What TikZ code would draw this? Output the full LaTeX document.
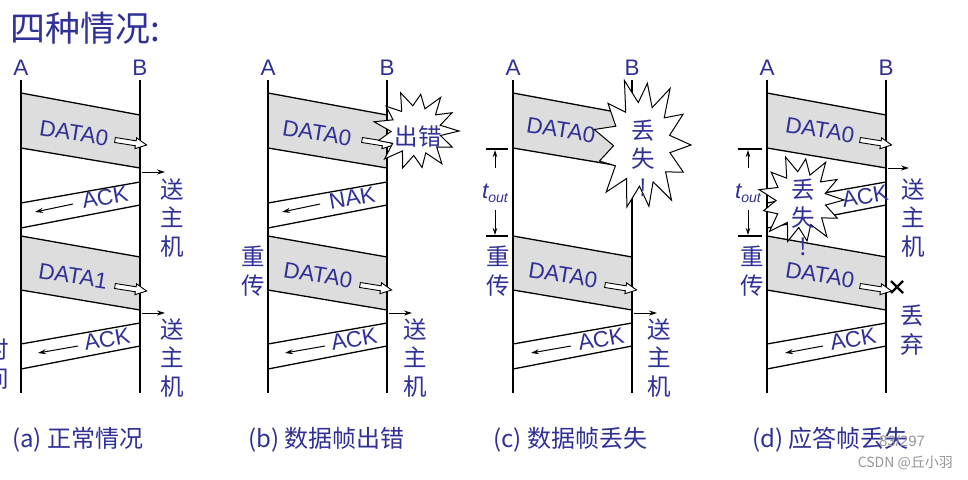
\documentclass[tikz,border=0pt]{standalone}
\usepackage{fontspec}
\setmainfont{Liberation Sans}
\newfontfamily\cjk{Noto Sans CJK SC}
\usetikzlibrary{arrows.meta}
\definecolor{txtblue}{RGB}{48,48,150}
\definecolor{framegray}{RGB}{221,221,221}
\definecolor{wmgray}{RGB}{150,150,150}
\tikzset{
  frameline/.style={line width=1.3pt,black},
  timeline/.style={line width=2.2pt,black},
  lat/.style={text=txtblue,font=\fontsize{22.5}{22.5}\selectfont,inner sep=0pt},
  han/.style={text=txtblue,font=\cjk\fontsize{23.5}{28.5}\selectfont,inner sep=0pt,align=center},
  captxt/.style={text=txtblue,font=\cjk\fontsize{24}{24}\selectfont,inner sep=0pt,anchor=west},
  smallarrow/.style={line width=1pt,-{Stealth[length=8pt,width=5pt]}},
  toutarrow/.style={line width=1pt,-{Stealth[length=7pt,width=4.5pt]}},
  tickline/.style={line width=1.5pt},
  burstbox/.style={fill=white,draw=black,line width=1pt,line join=miter},
  hollowbox/.style={fill=white,draw=black,line width=0.9pt}
}
% frames, relative to line A at x=0, line B at x=119
\newcommand\dataone{%
  \fill[framegray] (0,93) -- (119,115) -- (119,168) -- (0,148) -- cycle;
  \draw[frameline] (0,93) -- (119,115) (0,148) -- (119,168);}
\newcommand\ackone{%
  \draw[frameline] (119,182) -- (0,203) (119,205) -- (0,228);}
\newcommand\datatwo{%
  \fill[framegray] (0,236) -- (119,257) -- (119,310) -- (0,290) -- cycle;
  \draw[frameline] (0,236) -- (119,257) (0,290) -- (119,310);}
\newcommand\acktwo{%
  \draw[frameline] (119,323) -- (0,344) (119,346) -- (0,369);}
\newcommand\timelines[1]{%
  \draw[timeline] (0,80) coordinate (#1top) -- (0,393) coordinate (#1bot);
  \draw[timeline] (119,80) coordinate (#1Btop) -- (119,393) coordinate (#1Bbot);
  \node[lat] (#1A) at (0,68) {A};
  \node[lat] (#1B) at (119,68) {B};}
\newcommand\hollow[2]{%
  \begin{scope}[shift={(#1,#2)},rotate=-9]
    \filldraw[hollowbox] (0,-2.5) -- (21,-2.5) -- (21,-5.5) -- (32,0) -- (21,5.5) -- (21,2.5) -- (0,2.5) -- cycle;
  \end{scope}}
\newcommand\burst[4]{%
  \filldraw[burstbox,shift={(#1,#2)},x=#3pt,y=#4pt] (0:1)
    \foreach \a/\r in {14/0.58,28/0.95,41/0.6,55/1.0,69/0.58,83/0.9,97/0.62,111/1.0,125/0.58,139/0.92,153/0.6,167/1.0,181/0.58,195/0.9,209/0.62,223/1.0,237/0.58,251/0.95,265/0.6,279/0.9,293/0.58,307/1.0,321/0.62,335/0.93,349/0.58} {-- (\a:\r)} -- cycle;}
\begin{document}
\begin{tikzpicture}[x=1pt,y=-1pt]
\fill[white] (0,0) rectangle (968,479);
\useasboundingbox (0,0) rectangle (968,479);

\node[text=txtblue,font=\cjk\fontsize{35}{35}\selectfont,inner sep=0pt,anchor=west] (title) at (10,28) {四种情况:};

% ---------- (a) ----------
\begin{scope}[shift={(21,0)}]
  \dataone \ackone \datatwo \acktwo
  \timelines{a}
  \node[lat,rotate=-9] (aD0) at (53,133) {DATA0};
  \hollow{94}{140}
  \coordinate (aS1) at (121,172); \coordinate (aE1) at (144,172);
  \draw[smallarrow] (aS1) -- (aE1);
  \node[han] (ah1) at (151,218) {送\\主\\机};
  \node[lat,rotate=10] (aK1) at (84,197) {ACK};
  \coordinate (aS2) at (52,204); \coordinate (aE2) at (14,212);
  \draw[smallarrow] (aS2) -- (aE2);
  \node[lat,rotate=-9] (aD1) at (52,276) {DATA1};
  \hollow{94}{286}
  \coordinate (aS3) at (121,313); \coordinate (aE3) at (144,313);
  \draw[smallarrow] (aS3) -- (aE3);
  \node[han] (ah2) at (151,358) {送\\主\\机};
  \node[lat,rotate=10] (aK2) at (86,339) {ACK};
  \coordinate (aS4) at (57,346); \coordinate (aE4) at (17,353);
  \draw[smallarrow] (aS4) -- (aE4);
  \node[han] (atime) at (-24,364) {时\\间};
\end{scope}

% ---------- (b) ----------
\begin{scope}[shift={(268,0)}]
  \dataone \ackone \datatwo \acktwo
  \timelines{b}
  \node[lat,rotate=-9] (bD0) at (49,133) {DATA0};
  \hollow{94}{140}
  \burst{148}{131}{43}{41}
  \node[han] (berr) at (150,137) {出错};
  \node[lat,rotate=10] (bN) at (84,198) {NAK};
  \coordinate (bS2) at (52,204); \coordinate (bE2) at (14,212);
  \draw[smallarrow] (bS2) -- (bE2);
  \node[han] (bre) at (-15,271) {重\\传};
  \node[lat,rotate=-9] (bD1) at (50,275) {DATA0};
  \hollow{92}{285}
  \coordinate (bS3) at (121,313); \coordinate (bE3) at (144,313);
  \draw[smallarrow] (bS3) -- (bE3);
  \node[han] (bh2) at (147,358) {送\\主\\机};
  \node[lat,rotate=10] (bK2) at (86,339) {ACK};
  \coordinate (bS4) at (57,346); \coordinate (bE4) at (17,353);
  \draw[smallarrow] (bS4) -- (bE4);
\end{scope}

% ---------- (c) ----------
\begin{scope}[shift={(513,0)}]
  \dataone \datatwo \acktwo
  \timelines{c}
  \node[lat,rotate=-9] (cD0) at (48,130) {DATA0};
  \burst{129}{145}{49}{69}
  \node[han] (clost) at (130,158) {丢\\失\\!};
  \draw[tickline] (-27,149) coordinate (ct1l) -- (-5,149) coordinate (ct1r);
  \draw[tickline] (-27,236) coordinate (ct2l) -- (-5,236) coordinate (ct2r);
  \coordinate (cu1) at (-18,168); \coordinate (cu2) at (-18,150);
  \coordinate (cd1) at (-18,210); \coordinate (cd2) at (-18,235);
  \draw[toutarrow] (cu1) -- (cu2);
  \draw[toutarrow] (cd1) -- (cd2);
  \node[lat] (ctout) at (-18,193) {\itshape t\raisebox{-4pt}{\fontsize{14}{14}\selectfont out}};
  \node[han] (cre) at (-15,271) {重\\传};
  \node[lat,rotate=-9] (cD1) at (50,275) {DATA0};
  \hollow{92}{285}
  \coordinate (cS3) at (121,313); \coordinate (cE3) at (144,313);
  \draw[smallarrow] (cS3) -- (cE3);
  \node[han] (ch2) at (146,358) {送\\主\\机};
  \node[lat,rotate=10] (cK2) at (88,339) {ACK};
  \coordinate (cS4) at (58,346); \coordinate (cE4) at (18,353);
  \draw[smallarrow] (cS4) -- (cE4);
\end{scope}

% ---------- (d) ----------
\begin{scope}[shift={(767,0)}]
  \dataone \ackone \datatwo \acktwo
  \timelines{d}
  \node[lat,rotate=-9] (dD0) at (53,130) {DATA0};
  \hollow{93}{140}
  \coordinate (dS1) at (121,168); \coordinate (dE1) at (142,168);
  \draw[smallarrow] (dS1) -- (dE1);
  \node[han] (dh1) at (146,218) {送\\主\\机};
  \node[lat,rotate=10] (dK1) at (98,196) {ACK};
  \burst{34}{200}{43}{46}
  \node[han] (dlost) at (36,217) {丢\\失\\!};
  \draw[tickline] (-29,149) coordinate (dt1l) -- (-5,149) coordinate (dt1r);
  \draw[tickline] (-29,236) coordinate (dt2l) -- (-5,236) coordinate (dt2r);
  \coordinate (du1) at (-19,168); \coordinate (du2) at (-19,150);
  \coordinate (dd1) at (-19,210); \coordinate (dd2) at (-19,235);
  \draw[toutarrow] (du1) -- (du2);
  \draw[toutarrow] (dd1) -- (dd2);
  \node[lat] (dtout) at (-19,193) {\itshape t\raisebox{-4pt}{\fontsize{14}{14}\selectfont out}};
  \node[han] (dre) at (-15,271) {重\\传};
  \node[lat,rotate=-9] (dD1) at (53,275) {DATA0};
  \hollow{93}{286}
  \coordinate (dx) at (130,287);
  \draw[line width=2.2pt] ([shift={(-6,-6)}]dx) -- ([shift={(6,6)}]dx) ([shift={(-6,6)}]dx) -- ([shift={(6,-6)}]dx);
  \node[han] (ddrop) at (145,330) {丢\\弃};
  \node[lat,rotate=10] (dK2) at (86,339) {ACK};
  \coordinate (dS4) at (56,346); \coordinate (dE4) at (18,353);
  \draw[smallarrow] (dS4) -- (dE4);
\end{scope}

% captions
\node[captxt] (capa) at (12,440) {(a) 正常情况};
\node[captxt] (capb) at (248,440) {(b) 数据帧出错};
\node[captxt] (capc) at (493,440) {(c) 数据帧丢失};
\node[captxt] (capd) at (752,440) {(d) 应答帧丢失};
\node[text=wmgray,font=\fontsize{15}{15}\selectfont,inner sep=0pt] (page) at (902,441) {83/297};
\node[text=wmgray,font=\cjk\fontsize{14}{14}\selectfont,inner sep=0pt,anchor=east] (wm) at (953,463) {CSDN @丘小羽};
\end{tikzpicture}
\end{document}
